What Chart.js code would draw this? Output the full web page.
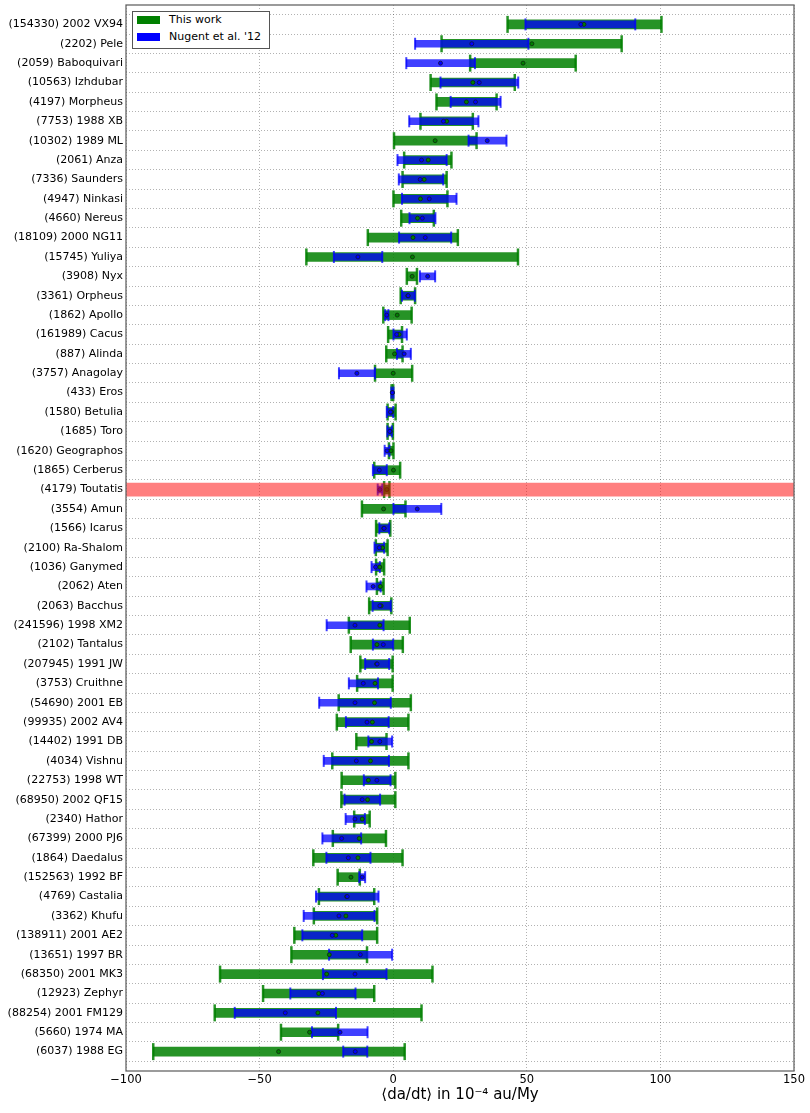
<!DOCTYPE html>
<html>
<head>
<meta charset="utf-8">
<script src="https://cdn.jsdelivr.net/npm/chart.js@4.4.0/dist/chart.umd.min.js"></script>
<style>
  body { margin: 0; background: #fff; }
  #wrap { position: relative; width: 810px; height: 1113px; }
  #legend { position: absolute; left: 132px; top: 11px; width: 138px; height: 38px; box-sizing: border-box;
            border: 1px solid #555; background: #fff; font: 11px 'DejaVu Sans', sans-serif; color: #000; }
  #legend .patch { position: absolute; left: 4px; width: 23px; height: 8px; }
  #legend .txt { position: absolute; left: 36px; line-height: 14px; white-space: nowrap; }
</style>
</head>
<body>
<div id="wrap">
  <canvas id="chart" width="810" height="1113"></canvas>
  <div id="legend">
    <div class="patch" style="top:4px;background:#008000"></div><div class="txt" style="top:1px">This work</div>
    <div class="patch" style="top:21px;background:#0000ff"></div><div class="txt" style="top:18px">Nugent et al. '12</div>
  </div>
</div>
<script>
const names = [
  '(154330) 2002 VX94', '(2202) Pele', '(2059) Baboquivari', '(10563) Izhdubar', '(4197) Morpheus',
  '(7753) 1988 XB', '(10302) 1989 ML', '(2061) Anza', '(7336) Saunders', '(4947) Ninkasi',
  '(4660) Nereus', '(18109) 2000 NG11', '(15745) Yuliya', '(3908) Nyx', '(3361) Orpheus',
  '(1862) Apollo', '(161989) Cacus', '(887) Alinda', '(3757) Anagolay', '(433) Eros',
  '(1580) Betulia', '(1685) Toro', '(1620) Geographos', '(1865) Cerberus', '(4179) Toutatis',
  '(3554) Amun', '(1566) Icarus', '(2100) Ra-Shalom', '(1036) Ganymed', '(2062) Aten',
  '(2063) Bacchus', '(241596) 1998 XM2', '(2102) Tantalus', '(207945) 1991 JW', '(3753) Cruithne',
  '(54690) 2001 EB', '(99935) 2002 AV4', '(14402) 1991 DB', '(4034) Vishnu', '(22753) 1998 WT',
  '(68950) 2002 QF15', '(2340) Hathor', '(67399) 2000 PJ6', '(1864) Daedalus', '(152563) 1992 BF',
  '(4769) Castalia', '(3362) Khufu', '(138911) 2001 AE2', '(13651) 1997 BR', '(68350) 2001 MK3',
  '(12923) Zephyr', '(88254) 2001 FM129', '(5660) 1974 MA', '(6037) 1988 EG'
];

// This work
const greenLo  = [42.8, 18.1, 28.8, 14.0, 16.2, 10.2, 0.3, 4.1, 3.5, 0.1, 3.0, -9.5, -32.5, 5.1, 2.8, -3.7, -1.9, -2.6, -6.8, -0.6,
                  -2.1, -2.1, -1.6, -7.1, -3.4, -11.7, -6.4, -6.5, -6.4, -6.1, -9.0, -16.6, -15.9, -12.3, -13.5, -20.4, -21.1, -13.8, -22.8, -19.3,
                  -19.4, -14.6, -22.6, -29.9, -20.8, -27.8, -29.7, -37.0, -38.1, -64.8, -48.7, -66.8, -42.0, -89.8];
const greenHi  = [100.4, 85.5, 68.3, 45.5, 38.7, 29.8, 31.2, 21.8, 20.0, 20.3, 15.2, 24.2, 46.7, 8.9, 8.2, 6.9, 3.3, 3.5, 7.1, 0.0,
                  0.9, -0.1, 0.1, 2.6, -1.4, 4.6, -1.1, -2.1, -3.4, -3.6, -0.7, 6.2, 3.6, -0.2, -0.2, 6.6, 5.7, -2.5, 5.7, 0.8,
                  0.8, -8.8, -2.7, 3.5, -12.5, -7.1, -6.0, -6.0, -9.8, 14.7, -7.1, 10.6, -20.6, 4.3];
const greenMid = [71.4, 51.9, 48.6, 29.8, 27.4, 20.0, 15.7, 13.1, 11.6, 10.2, 9.1, 7.4, 7.2, 7.1, 5.5, 1.5, 2.2, 0.5, 0.0, -0.3,
                  -0.6, -1.1, -0.8, 0.1, -2.4, -3.6, -3.5, -4.0, -5.0, -4.8, -4.5, -5.0, -6.1, -6.2, -6.8, -7.0, -7.8, -8.1, -8.5, -9.3,
                  -9.6, -11.6, -12.7, -13.2, -15.8, -17.4, -17.7, -21.5, -23.9, -24.9, -27.9, -28.2, -31.3, -42.9];

// Nugent et al. '12
const blueLo  = [49.5, 8.2, 4.9, 17.7, 21.5, 6.0, 28.2, 1.6, 2.1, 3.3, 6.1, 2.2, -22.2, 10.0, 3.3, -3.0, 0.1, 1.4, -20.3, -0.7,
                 -2.4, -2.2, -3.2, -7.6, -5.8, 0.1, -5.2, -7.0, -8.1, -10.0, -7.7, -24.9, -7.6, -10.5, -16.6, -27.7, -17.7, -9.3, -26.0, -11.0,
                 -18.2, -17.8, -26.5, -25.0, -12.7, -28.9, -33.5, -34.0, -24.0, -26.3, -38.5, -59.3, -30.4, -18.7];
const blueHi  = [90.6, 50.6, 30.6, 46.8, 40.2, 31.9, 42.4, 20.0, 18.7, 23.7, 15.8, 21.7, -4.1, 15.7, 8.1, -1.8, 5.1, 6.6, -6.8, 0.1,
                 0.0, -0.5, -1.4, -2.4, -4.1, 18.0, -1.5, -3.4, -5.0, -4.7, -0.9, -3.6, 0.0, -1.5, -5.7, -0.9, -1.7, -0.4, -1.6, -1.0,
                 -4.9, -10.6, -12.0, -8.5, -10.5, -5.5, -7.0, -11.6, -0.4, -2.5, -14.1, -21.4, -9.6, -9.7];
const blueMid = [70.2, 29.4, 17.7, 32.2, 30.8, 18.8, 35.2, 10.6, 10.1, 13.5, 10.9, 12.0, -13.2, 12.9, 5.6, -2.4, 1.3, 4.1, -13.6, -0.3,
                 -1.0, -1.3, -2.3, -5.2, -5.0, 9.0, -3.4, -5.2, -6.6, -7.5, -5.0, -14.3, -3.7, -6.0, -11.2, -14.3, -9.8, -5.0, -13.8, -6.1,
                 -11.6, -14.3, -19.3, -16.8, -11.6, -17.2, -20.3, -22.8, -12.3, -14.3, -26.5, -40.4, -19.9, -14.2];

const xTicks = [-100, -50, 0, 50, 100, 150];
const highlightRow = 24; // (4179) Toutatis

const GREEN = 'rgba(0,128,0,0.85)';
const BLUE = 'rgba(0,0,255,0.75)';

const rows = names.map((_, i) => i);
const bars = (lo, hi) => rows.map(i => ({ x: [lo[i], hi[i]], y: i }));
const caps = (lo, hi) => rows.flatMap(i => [{ x: lo[i], y: i }, { x: hi[i], y: i }]);
const dots = mid => rows.map(i => ({ x: mid[i], y: i }));

Chart.defaults.font.family = "'DejaVu Sans', sans-serif";
Chart.defaults.font.size = 11;
Chart.defaults.color = '#000';

const framePlugin = {
  id: 'frame',
  afterDatasetsDraw(chart) {
    const { ctx, chartArea: a } = chart;
    ctx.save();
    ctx.strokeStyle = '#666';
    ctx.lineWidth = 1.3;
    ctx.strokeRect(a.left, a.top, a.right - a.left, a.bottom - a.top);
    ctx.restore();
  }
};

new Chart(document.getElementById('chart'), {
  type: 'scatter',
  data: {
    datasets: [
      { type: 'bar', label: 'This work', indexAxis: 'y', grouped: false, barThickness: 9,
        data: bars(greenLo, greenHi), backgroundColor: GREEN, borderWidth: 0, order: 7 },
      { type: 'scatter', data: caps(greenLo, greenHi), pointStyle: 'line', pointRotation: 90,
        pointRadius: 8.5, pointBorderWidth: 2.5, pointBorderColor: GREEN, order: 6 },
      { type: 'bar', label: "Nugent et al. '12", indexAxis: 'y', grouped: false, barThickness: 7,
        data: bars(blueLo, blueHi), backgroundColor: BLUE, borderWidth: 0, order: 4 },
      { type: 'scatter', data: caps(blueLo, blueHi), pointStyle: 'line', pointRotation: 90,
        pointRadius: 6, pointBorderWidth: 2, pointBorderColor: BLUE, order: 3 },
      { type: 'scatter', data: dots(greenMid), pointRadius: 2, pointBackgroundColor: '#008000',
        pointBorderColor: '#0b2b0b', pointBorderWidth: 0.8, order: 2 },
      { type: 'scatter', data: dots(blueMid), pointRadius: 2, pointBackgroundColor: '#0000ff',
        pointBorderColor: '#101040', pointBorderWidth: 0.8, order: 1 },
      { type: 'bar', indexAxis: 'y', grouped: false, barThickness: 13,
        data: [{ x: [-100, 150], y: highlightRow }], backgroundColor: 'rgba(255,0,0,0.5)', borderWidth: 0, order: 0 }
    ]
  },
  options: {
    responsive: false,
    animation: false,
    layout: { autoPadding: false, padding: { top: 5, right: 16, left: 0, bottom: 0 } },
    plugins: { legend: { display: false }, tooltip: { enabled: false } },
    scales: {
      x: {
        type: 'linear', min: -100, max: 150, offset: false,
        afterBuildTicks: s => { s.ticks = xTicks.map(v => ({ value: v })); },
        ticks: { font: { size: 11.5 }, padding: 2, callback: v => String(v).replace('-', '\u2212') },
        grid: { color: 'rgba(0,0,0,0.3)', drawTicks: false, lineWidth: 1 },
        border: { display: false, dash: [1, 2] },
        title: { display: true, text: '\u27e8da/dt\u27e9 in 10\u207b\u2074 au/My', font: { size: 15 },
                 padding: { top: 0, bottom: 9 } },
        afterFit: s => { s.height = 42; }
      },
      y: {
        type: 'linear', min: -1, max: 54, reverse: true, offset: false,
        afterBuildTicks: s => { s.ticks = rows.map(v => ({ value: v })); },
        ticks: { autoSkip: false, padding: 3, font: { size: 11 }, callback: v => names[v] },
        grid: { color: 'rgba(0,0,0,0.3)', drawTicks: false, lineWidth: 1 },
        border: { display: false, dash: [1, 2] },
        afterFit: s => { s.width = 126; s.paddingTop = 0; s.paddingBottom = 0; }
      }
    }
  },
  plugins: [framePlugin]
});
</script>
</body>
</html>
